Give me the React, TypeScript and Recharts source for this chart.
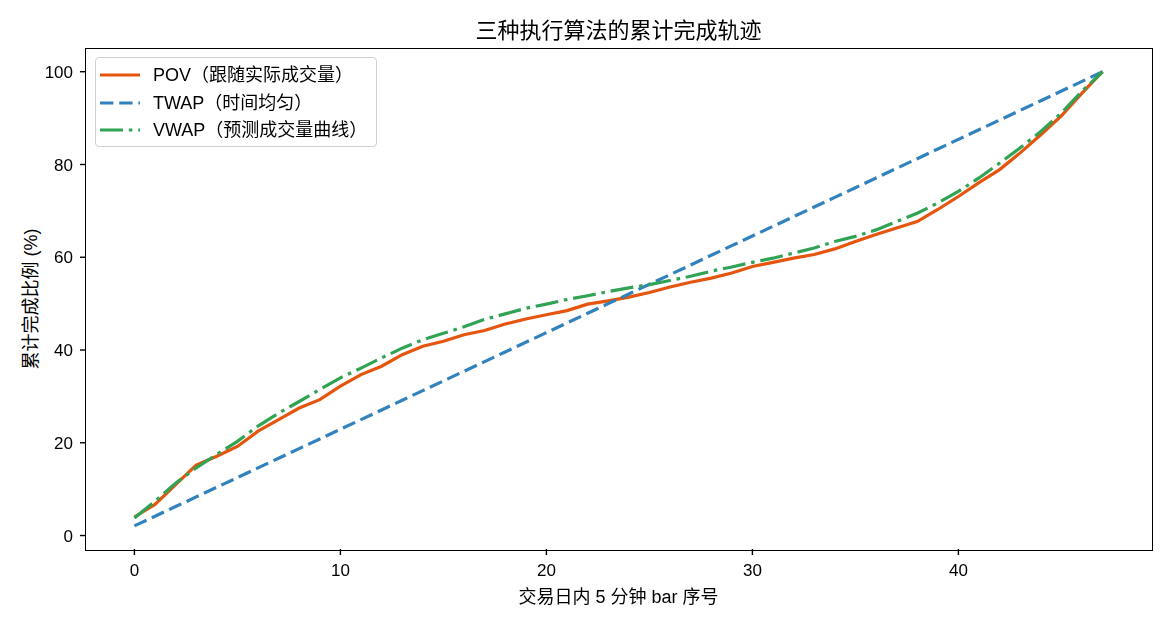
import React from "react";
import {
  Legend,
  Line,
  LineChart,
  XAxis,
  YAxis,
} from "recharts";

const FONT = '"Liberation Sans", "Noto Sans CJK SC", sans-serif';

// bar index within the trading day (5-minute bars)
const bars = [
  0, 1, 2, 3, 4, 5, 6, 7, 8, 9, 10, 11, 12, 13, 14, 15, 16, 17, 18, 19, 20, 21,
  22, 23, 24, 25, 26, 27, 28, 29, 30, 31, 32, 33, 34, 35, 36, 37, 38, 39, 40,
  41, 42, 43, 44, 45, 46, 47,
];

const povValues = [
  4.0, 6.7, 11.0, 15.2, 17.1, 19.2, 22.5, 25.0, 27.5, 29.3, 32.2, 34.7, 36.5,
  39.0, 40.8, 41.9, 43.3, 44.2, 45.6, 46.7, 47.6, 48.5, 49.9, 50.6, 51.4, 52.4,
  53.6, 54.6, 55.5, 56.6, 58.0, 58.9, 59.8, 60.6, 61.8, 63.4, 64.9, 66.3, 67.7,
  70.3, 73.1, 76.1, 78.9, 82.5, 86.4, 90.5, 95.4, 100,
];

const twapValues = [
  2.08, 4.17, 6.25, 8.33, 10.42, 12.5, 14.58, 16.67, 18.75, 20.83, 22.92, 25.0,
  27.08, 29.17, 31.25, 33.33, 35.42, 37.5, 39.58, 41.67, 43.75, 45.83, 47.92,
  50.0, 52.08, 54.17, 56.25, 58.33, 60.42, 62.5, 64.58, 66.67, 68.75, 70.83,
  72.92, 75.0, 77.08, 79.17, 81.25, 83.33, 85.42, 87.5, 89.58, 91.67, 93.75,
  95.83, 97.92, 100,
];

const vwapValues = [
  3.8, 7.4, 11.3, 14.6, 17.5, 20.3, 23.6, 26.4, 28.9, 31.5, 34.0, 36.1, 38.3,
  40.4, 42.2, 43.6, 45.0, 46.6, 47.8, 49.0, 49.9, 50.9, 51.7, 52.6, 53.4, 54.1,
  55.0, 55.9, 57.0, 57.9, 58.9, 59.8, 60.9, 62.0, 63.4, 64.5, 65.9, 67.7, 69.5,
  71.7, 74.2, 77.1, 80.3, 83.6, 87.1, 91.1, 95.8, 100,
];

const xTicks = [0, 10, 20, 30, 40];
const yTicks = [0, 20, 40, 60, 80, 100];

const data = bars.map((bar, i) => ({
  bar,
  pov: povValues[i],
  twap: twapValues[i],
  vwap: vwapValues[i],
}));

const POV_COLOR = "#e6550d";
const TWAP_COLOR = "#3182bd";
const VWAP_COLOR = "#31a354";
const LINE_W = 3.2;
const DASH = "13.4 5.8";
const DASH_DOT = "23 5.8 3.6 5.8";

const LegendBox = ({ payload }: { payload?: any[] }) => (
  <div
    style={{
      border: "1px solid #d0d0d0",
      borderRadius: 4,
      background: "rgba(255,255,255,0.8)",
      padding: "3px 9px 2px 4px",
      fontFamily: FONT,
      fontSize: 18,
      color: "#000",
      whiteSpace: "nowrap",
    }}
  >
    {(payload || []).map((p) => (
      <div
        key={p.value}
        style={{ display: "flex", alignItems: "center", height: 27.7 }}
      >
        <svg width={40} height={10} style={{ marginRight: 13, flex: "none" }}>
          <line
            x1={0}
            x2={40}
            y1={5}
            y2={5}
            stroke={p.color}
            strokeWidth={LINE_W}
            strokeDasharray={p.payload?.strokeDasharray}
          />
        </svg>
        <span style={{ lineHeight: "18px" }}>{p.value}</span>
      </div>
    ))}
  </div>
);

export default function App() {
  return (
    <div
      style={{
        position: "fixed",
        left: 0,
        top: 0,
        width: 1170,
        height: 624,
        background: "#fff",
        fontFamily: FONT,
        color: "#000",
      }}
    >
      <div
        style={{
          position: "absolute",
          left: 0,
          width: 1237,
          top: 19.5,
          textAlign: "center",
          fontSize: 22,
          lineHeight: "22px",
        }}
      >
        三种执行算法的累计完成轨迹
      </div>
      <div
        style={{
          position: "absolute",
          left: 0,
          width: 1237,
          top: 587.5,
          textAlign: "center",
          fontSize: 18,
          lineHeight: "18px",
        }}
      >
        交易日内 5 分钟 bar 序号
      </div>
      <div
        style={{
          position: "absolute",
          left: 31,
          top: 299,
          transform: "translate(-50%, -50%) rotate(-90deg)",
          fontSize: 18,
          lineHeight: "18px",
          whiteSpace: "nowrap",
        }}
      >
        累计完成比例 (%)
      </div>
      <LineChart
        width={1170}
        height={624}
        data={data}
        margin={{ top: 49, right: 19, bottom: 45, left: 46 }}
        style={{ position: "absolute", left: 0, top: 0 }}
      >
        <XAxis
          dataKey="bar"
          type="number"
          domain={[-2.35, 49.35]}
          ticks={xTicks}
          allowDataOverflow
          height={30}
          tickSize={6}
          tickMargin={9}
          axisLine={false}
          tickLine={{ stroke: "#000", strokeWidth: 1.4 }}
          tick={{ fill: "#000", fontSize: 17, fontFamily: FONT }}
        />
        <YAxis
          type="number"
          domain={[-2.9, 104.9]}
          ticks={yTicks}
          allowDataOverflow
          width={40}
          tickSize={6}
          tickMargin={7}
          axisLine={false}
          tickLine={{ stroke: "#000", strokeWidth: 1.4 }}
          tick={{ fill: "#000", fontSize: 17, fontFamily: FONT }}
        />
        <Legend
          layout="vertical"
          align="center"
          verticalAlign="middle"
          wrapperStyle={{ left: 95, top: 57, width: "auto" }}
          content={<LegendBox />}
        />
        <Line
          dataKey="pov"
          name="POV（跟随实际成交量）"
          stroke={POV_COLOR}
          strokeWidth={LINE_W}
          dot={false}
          activeDot={false}
          isAnimationActive={false}
        />
        <Line
          dataKey="twap"
          name="TWAP（时间均匀）"
          stroke={TWAP_COLOR}
          strokeWidth={LINE_W}
          strokeDasharray={DASH}
          dot={false}
          activeDot={false}
          isAnimationActive={false}
        />
        <Line
          dataKey="vwap"
          name="VWAP（预测成交量曲线）"
          stroke={VWAP_COLOR}
          strokeWidth={LINE_W}
          strokeDasharray={DASH_DOT}
          dot={false}
          activeDot={false}
          isAnimationActive={false}
        />
      </LineChart>
      <div
        style={{
          position: "absolute",
          left: 85.3,
          top: 48.3,
          width: 1067.4,
          height: 502.4,
          border: "1.4px solid #000",
          boxSizing: "border-box",
          pointerEvents: "none",
        }}
      />
    </div>
  );
}
